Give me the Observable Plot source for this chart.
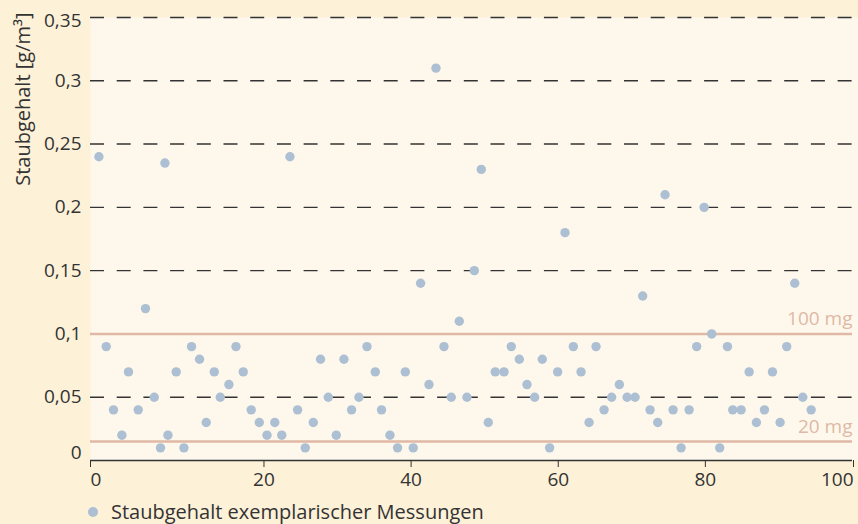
<!DOCTYPE html>
<html>
<head>
<meta charset="utf-8">
<script src="https://cdn.jsdelivr.net/npm/d3@7"></script>
<script src="https://cdn.jsdelivr.net/npm/@observablehq/plot@0.6"></script>
<style>
  html, body { margin: 0; padding: 0; background: #fdf1d8; }
  #wrap { position: relative; width: 858px; height: 524px; background: #fdf1d8; font-family: "Open Sans", sans-serif; color: #333; overflow: hidden; }
  #legend { position: absolute; left: 88px; top: 501px; height: 22px; font-size: 20px; line-height: 22px; display: flex; align-items: center; color: #333; white-space: nowrap; }
  #legend .dot { width: 10px; height: 10px; border-radius: 50%; background: #adbfd2; margin-right: 13px; }
</style>
</head>
<body>
<div id="wrap"><div id="chart"></div><div id="legend"><span class="dot"></span><span id="legendText"></span></div></div>
<script>
// measurement positions read against the drawn x axis
const xValues = [0.97,1.81,2.65,3.62,4.38,5.5,6.34,7.35,8.07,8.58,8.93,9.88,10.77,11.65,12.57,13.34,14.27,14.96,15.96,16.77,17.61,18.53,19.46,
  20.41,21.47,22.42,23.53,24.57,25.61,26.7,27.69,28.74,29.83,30.87,31.91,32.91,34.0,35.13,35.98,37.13,38.16,39.21,40.29,41.29,42.43,43.38,44.47,45.46,46.55,
  47.59,48.59,49.54,50.49,51.44,52.63,53.62,54.71,55.75,56.79,57.83,58.83,59.92,60.92,62.05,63.1,64.19,65.14,66.23,67.26,68.31,69.36,70.44,71.48,
  72.48,73.52,74.52,75.61,76.7,77.79,78.82,79.83,80.86,81.95,83.0,83.72,84.86,85.95,86.94,88.03,89.12,90.16,91.06,92.15,93.24,94.38];
// dust content g/m³
const yValues = [0.24,0.09,0.04,0.02,0.07,0.04,0.12,0.05,0.01,0.235,0.02,0.07,0.01,0.09,0.08,0.03,0.07,0.05,0.06,0.09,0.07,0.04,0.03,
  0.02,0.03,0.02,0.24,0.04,0.01,0.03,0.08,0.05,0.02,0.08,0.04,0.05,0.09,0.07,0.04,0.02,0.01,0.07,0.01,0.14,0.06,0.31,0.09,0.05,0.11,
  0.05,0.15,0.23,0.03,0.07,0.07,0.09,0.08,0.06,0.05,0.08,0.01,0.07,0.18,0.09,0.07,0.03,0.09,0.04,0.05,0.06,0.05,0.05,0.13,
  0.04,0.03,0.21,0.04,0.01,0.04,0.09,0.2,0.1,0.01,0.09,0.04,0.04,0.07,0.03,0.04,0.07,0.03,0.09,0.14,0.05,0.04];
const xTicks = [0, 20, 40, 60, 80, 100];
const yTicks = [0, 0.05, 0.1, 0.15, 0.2, 0.25, 0.3, 0.35];
const yTickLabels = ["0", "0,05", "0,1", "0,15", "0,2", "0,25", "0,3", "0,35"];
const gridValues = [0.05, 0.15, 0.2, 0.25, 0.3, 0.35];
const limitValues = [0.1, 0.015];
const limitLabels = ["100 mg", "20 mg"];
const yLabel = "Staubgehalt [g/m³]";
const legendLabel = "Staubgehalt exemplarischer Messungen";

const data = xValues.map((x, i) => ({x, y: yValues[i]}));
const limits = limitValues.map((v, i) => ({v, label: limitLabels[i]}));
const yFmt = d => yTickLabels[yTicks.indexOf(d)];

const W = 858, H = 492, ML = 90, MR = 6, MT = 17, MB = 32;
const font = "Open Sans, sans-serif";
const ink = "#333";
const limitColor = "#dfb8a6";
const dotColor = "#adbfd2";
const tickFont = 19;

// the drawn x axis is piecewise: the first interval (0–20) is wider than the others
const firstSpan = 23.58;
const xTransform = v => v >= 20 ? v : -firstSpan + 20 + v * firstSpan / 20;

const chart = Plot.plot({
  width: W, height: H,
  marginLeft: ML, marginRight: MR, marginTop: MT, marginBottom: MB,
  style: {background: "transparent", fontFamily: font, fontSize: "18px", color: ink},
  x: {transform: xTransform, domain: [xTransform(0), xTransform(100)]},
  y: {domain: [0, 0.35]},
  marks: [
    Plot.frame({fill: "#fef8ec", stroke: null, insetRight: -MR}),
    Plot.ruleY(gridValues, {stroke: ink, strokeWidth: 1.4, strokeDasharray: "14,12.7"}),
    Plot.ruleY(limits, {y: "v", stroke: limitColor, strokeWidth: 2.6}),
    Plot.text(limits, {y: "v", text: "label", frameAnchor: "right", textAnchor: "end", dy: -15, fill: limitColor, fontSize: 19}),
    Plot.ruleY([0], {stroke: ink, strokeWidth: 1.4}),
    Plot.axisX([0], {tickSize: 7, tickPadding: 5, textAnchor: "start", stroke: ink, fill: ink, fontSize: tickFont, label: null}),
    Plot.axisX([20, 40, 60, 80], {tickSize: 7, tickPadding: 5, stroke: ink, fill: ink, fontSize: tickFont, label: null}),
    Plot.axisX([100], {tickSize: 7, tickPadding: 5, textAnchor: "end", dx: 1, stroke: ink, fill: ink, fontSize: tickFont, label: null}),
    Plot.axisY([0.05, 0.1, 0.15, 0.2, 0.25, 0.3], {tickSize: 0, tickPadding: 9, tickFormat: yFmt, fill: ink, fontSize: tickFont, label: null}),
    Plot.axisY([0.35], {tickSize: 0, tickPadding: 9, tickFormat: yFmt, dy: 3, fill: ink, fontSize: tickFont, label: null}),
    Plot.axisY([0], {tickSize: 0, tickPadding: 9, tickFormat: yFmt, dy: -8, fill: ink, fontSize: tickFont, label: null}),
    Plot.text([yLabel], {text: d => d, frameAnchor: "top-left", rotate: -90, textAnchor: "end", dx: -75, dy: -5, fill: ink, fontSize: 20}),
    Plot.dot(data, {x: "x", y: "y", r: 4.7, fill: dotColor, stroke: null})
  ]
});
document.getElementById("chart").appendChild(chart);
document.getElementById("legendText").textContent = legendLabel;
</script>
</body>
</html>
